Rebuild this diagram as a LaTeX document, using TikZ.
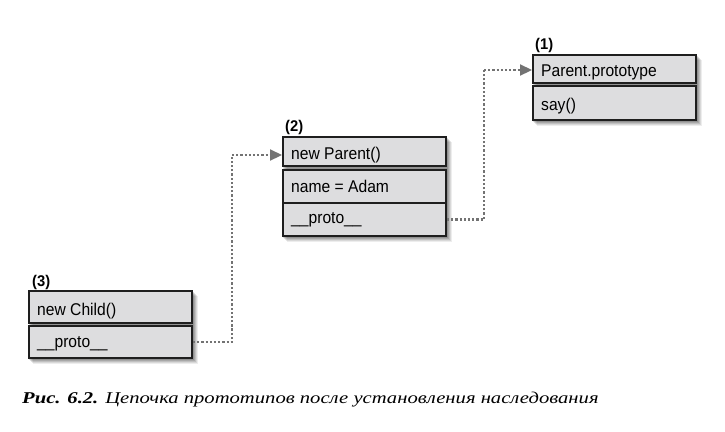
\documentclass[tikz,border=0pt]{standalone}
\usepackage{fontspec}
\setmainfont{Liberation Serif}
\newfontfamily\capfont[FakeStretch=1.25]{Liberation Serif}
\newfontfamily\boxfont[FakeStretch=0.92]{Liberation Sans}
\newfontfamily\labfont[FakeStretch=0.95]{Liberation Sans}
\usetikzlibrary{arrows.meta,calc,backgrounds}
\definecolor{boxfill}{RGB}{221,221,223}
\definecolor{linkgray}{RGB}{115,115,115}
\definecolor{edge}{RGB}{30,30,30}
\tikzset{
  rowbox/.style={draw=edge, line width=2bp, fill=boxfill, inner sep=0pt, minimum width=163bp, anchor=north west},
  txt/.style={font=\boxfont\fontsize{17bp}{19bp}\selectfont, inner sep=0pt, anchor=base west, text=black},
  lab/.style={font=\labfont\bfseries\fontsize{15.5bp}{17bp}\selectfont, inner sep=0pt, anchor=base west},
  link/.style={draw=linkgray, line width=2.2bp, dotted},
  linkarrow/.style={link, -{Triangle[length=12bp,width=11bp,fill=linkgray]}},
  caption/.style={font=\capfont\itshape\fontsize{16.5bp}{18bp}\selectfont, inner sep=0pt, anchor=base west}
}
\newcommand{\boxshadow}[2]{%
  \foreach \s/\o in {1/0.14,2/0.12,3/0.11,4/0.09,5/0.07}{%
    \fill[black, opacity=\o] ($(#1.north west)+(\s,\s+1)$) rectangle ($(#2.south east)+(\s,\s)$);
  }%
}
\begin{document}
\begin{tikzpicture}[x=1bp,y=-1bp]
\useasboundingbox (0,0) rectangle (725,431);
% Box 1
\node[rowbox, minimum height=28bp] (b1h) at (532,54) {};
\node[rowbox, minimum height=34bp] (b1s) at (532,85) {};
\node[txt] (t1h) at ($(b1h.north west)+(9,22.5)$) {Parent.prototype};
\node[txt] (t1s) at ($(b1s.north west)+(9,25)$) {say()};
\node[lab] (l1) at ($(b1h.north west)+(3,-5)$) {(1)};
% Box 2
\node[rowbox, minimum height=29bp] (b2h) at (282,136) {};
\node[rowbox, minimum height=33.5bp] (b2n) at (282,168.5) {};
\node[rowbox, minimum height=33bp] (b2p) at (282,202) {};
\node[txt] (t2h) at ($(b2h.north west)+(9,23)$) {new Parent()};
\node[txt] (t2n) at ($(b2n.north west)+(9,23.5)$) {name = Adam};
\node[txt] (t2p) at ($(b2p.north west)+(9,21)$) {\_\_proto\_\_};
\node[lab] (l2) at ($(b2h.north west)+(3,-5)$) {(2)};
% Box 3
\node[rowbox, minimum height=31.5bp] (b3h) at (28,290) {};
\node[rowbox, minimum height=32bp] (b3p) at (28,325) {};
\node[txt] (t3h) at ($(b3h.north west)+(9,25)$) {new Child()};
\node[txt] (t3p) at ($(b3p.north west)+(9,22)$) {\_\_proto\_\_};
\node[lab] (l3) at ($(b3h.north west)+(4,-4)$) {(3)};
% shadows
\begin{scope}[on background layer]
\boxshadow{b1h}{b1s}
\boxshadow{b2h}{b2p}
\boxshadow{b3h}{b3p}
\end{scope}
% links
\coordinate (k1) at (232,155);
\coordinate (k2) at (484,70);
\draw[link] (b3p.east) -| (k1);
\draw[linkarrow] (k1) -- (k1 -| b2h.west);
\draw[link] (b2p.east) -| (k2);
\draw[linkarrow] (k2) -- (k2 -| b1h.west);
% caption
\node[caption] (cap) at (22,403) {{\bfseries Рис. 6.2.} Цепочка прототипов после установления наследования};
\end{tikzpicture}
\end{document}
